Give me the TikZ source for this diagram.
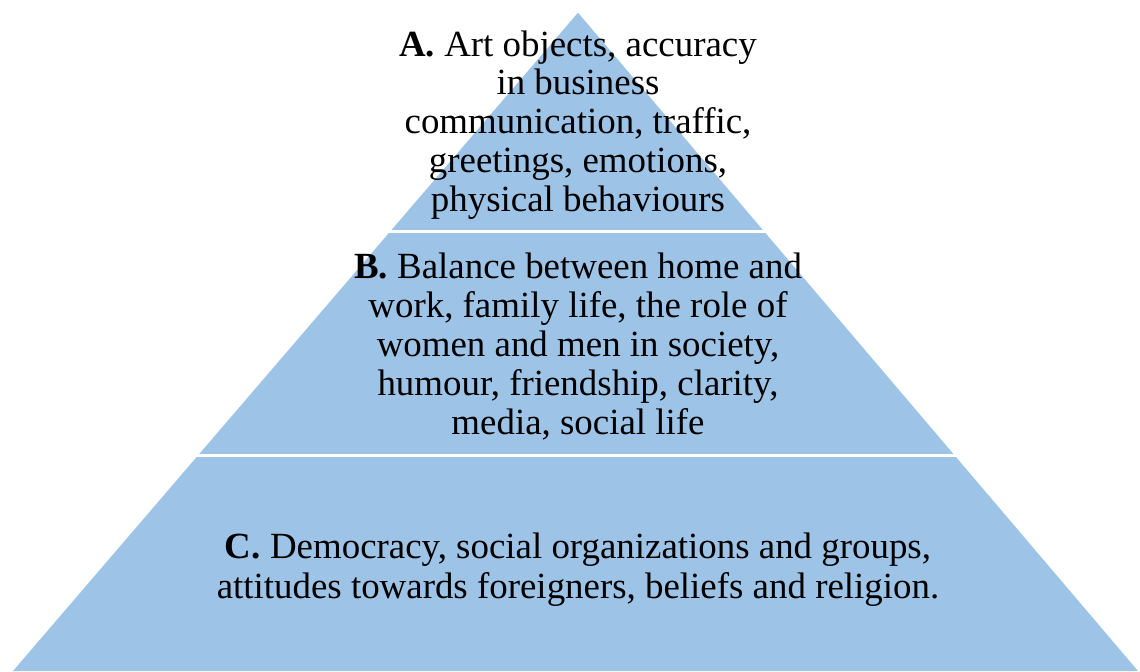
\documentclass[tikz,border=0pt]{standalone}
\usepackage{fontspec}
\setmainfont{Liberation Serif}
\usetikzlibrary{calc}
\definecolor{pyrblue}{HTML}{9DC3E6}
\tikzset{
  level/.style={fill=pyrblue, draw=none},
  divider/.style={draw=white, line width=1.8pt, shorten <=-3pt, shorten >=-3pt},
  tier/.style={align=center, inner sep=0pt, text=black, font=\fontsize{21}{22.1}\selectfont},
  widetier/.style={tier, font=\fontsize{21}{22.8}\selectfont}
}
\begin{document}
\begin{tikzpicture}
\useasboundingbox (0,0) rectangle (22.8,13.42);
\coordinate (apex) at (11.56,13.166);
\coordinate (bl) at (0.26,0);
\coordinate (br) at (22.76,0);
\fill[level] (apex) -- (bl) -- (br) -- cycle;
\draw[divider] ($(apex)!0.333!(bl)$) -- ($(apex)!0.333!(br)$);
\draw[divider] ($(apex)!0.673!(bl)$) -- ($(apex)!0.673!(br)$);
\node[tier] (tierA) at (11.56,10.92) {\textbf{A.} Art objects, accuracy\\in business\\communication, traffic,\\greetings, emotions,\\physical behaviours};
\node[tier] (tierB) at (11.56,6.49) {\textbf{B.} Balance between home and\\work, family life, the role of\\women and men in society,\\humour, friendship, clarity,\\media, social life};
\node[widetier] (tierC) at (11.56,2.02) {\textbf{C.} Democracy, social organizations and groups,\\attitudes towards foreigners, beliefs and religion.};
\end{tikzpicture}
\end{document}
